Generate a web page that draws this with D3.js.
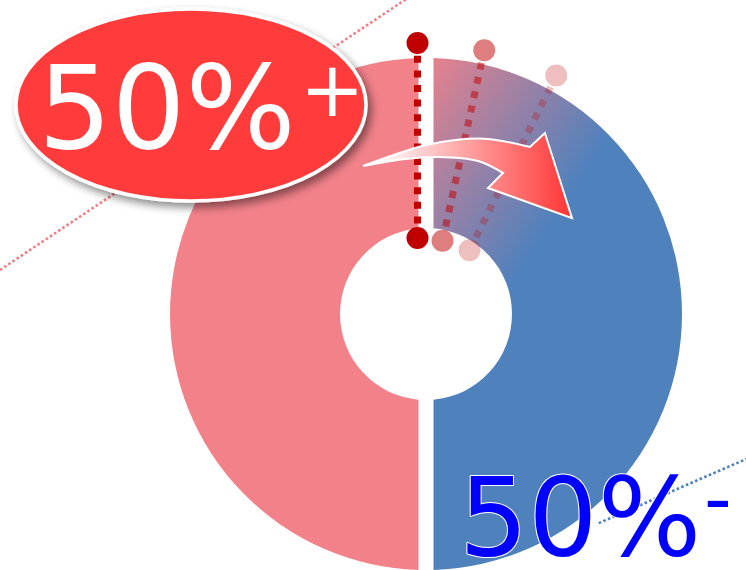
<!DOCTYPE html>
<html>
<head>
<meta charset="utf-8">
<script src="https://cdn.jsdelivr.net/npm/d3@7"></script>
<style>
  html, body { margin: 0; padding: 0; background: #fff; overflow: hidden; }
  svg { display: block; }
</style>
</head>
<body>
<script>
// Two halves of the ring, clockwise from the bottom
const shares = [50, 50];
const signs = ["+", "-"];
const sliceColors = ["#f2818a", "#4f81bd"];

// How far (degrees) the dividing line is turned, and how strongly each copy is drawn
const splitTurns = [0, 12.35, 26.4];
const splitOpacity = [1, 0.5, 0.25];

// Curved arrow outline, as [angle in degrees, radius] around the ring centre
const arrowUpper = [[-23.06, 160.8], [-1.4, 168], [9.5, 176.4], [19.5, 185.7], [31.9, 196.7]];
const arrowHead = [[33.3, 216.6], [56.7, 174.7], [26.2, 140.4]];
const arrowLower = [[28.6, 160.7], [18.8, 161.6], [4.4, 157.5], [-7.7, 156.4], [-23.06, 160.8]];

const W = 746, H = 570;
const cx = 426, cy = 314, rOuter = 256, rInner = 86, gap = 15;

const svg = d3.select("body").append("svg")
  .attr("width", W).attr("height", H)
  .attr("font-family", "'DejaVu Sans', Verdana, sans-serif");

const defs = svg.append("defs");

// shadow under the badge
const sh = defs.append("filter").attr("id", "badgeShadow")
  .attr("x", "-20%").attr("y", "-20%").attr("width", "140%").attr("height", "150%");
sh.append("feDropShadow").attr("dx", 4).attr("dy", 5).attr("stdDeviation", 4)
  .attr("flood-color", "#000").attr("flood-opacity", 0.45);

// pink-to-blue fade across the upper right quarter (ring-centred coordinates)
const fade = defs.append("linearGradient").attr("id", "blueFade")
  .attr("gradientUnits", "userSpaceOnUse")
  .attr("x1", -5).attr("y1", -rOuter - 8)
  .attr("x2", 165).attr("y2", -rOuter + 106);
fade.append("stop").attr("offset", 0).attr("stop-color", sliceColors[0]);
fade.append("stop").attr("offset", 1).attr("stop-color", sliceColors[1]);

// arrow: white tail to red head
const ag = defs.append("linearGradient").attr("id", "arrowFade")
  .attr("gradientUnits", "userSpaceOnUse")
  .attr("x1", cx - 50).attr("y1", 0).attr("x2", cx + 140).attr("y2", 0);
ag.append("stop").attr("offset", 0).attr("stop-color", "#ffffff");
ag.append("stop").attr("offset", 1).attr("stop-color", "#ff3b3b");

const toRad = d => d * Math.PI / 180;
const polar = (deg, r, ox = cx, oy = cy) => [ox + r * Math.sin(toRad(deg)), oy - r * Math.cos(toRad(deg))];

// dotted guide lines tangent to the ring
function tangent(deg, dist, s0, s1, color) {
  const [fx, fy] = polar(deg, dist);
  const tx = Math.cos(toRad(deg)), ty = Math.sin(toRad(deg));
  svg.append("line")
    .attr("x1", fx + s0 * tx).attr("y1", fy + s0 * ty)
    .attr("x2", fx + s1 * tx).attr("y2", fy + s1 * ty)
    .attr("stroke", color).attr("stroke-width", 2.6)
    .attr("stroke-dasharray", "2.6 2.4");
}
tangent(-33.7, 273, -400, 260, "#f47c84");
tangent(156.5, 260.7, -75, -260, "#4f81bd");

// ring
const pie = d3.pie().sort(null).startAngle(Math.PI).endAngle(3 * Math.PI);
const arc = d3.arc().innerRadius(rInner).outerRadius(rOuter)
  .padRadius(rOuter).padAngle(gap / rOuter);

svg.append("g").attr("transform", `translate(${cx},${cy})`)
  .selectAll("path").data(pie(shares)).join("path")
  .attr("d", arc)
  .attr("fill", (d, i) => i === 1 ? "url(#blueFade)" : sliceColors[i]);

// turned copies of the dividing line, pivoting below the centre
const pivot = [cx - 8.5, cy + 41];
const split = svg.append("g");
splitTurns.slice().reverse().forEach((t, k) => {
  const i = splitTurns.length - 1 - k;
  const a = polar(t, 117, pivot[0], pivot[1]);
  const b = polar(t, 312, pivot[0], pivot[1]);
  const g = split.append("g").attr("opacity", splitOpacity[i]);
  g.append("line")
    .attr("x1", a[0]).attr("y1", a[1]).attr("x2", b[0]).attr("y2", b[1])
    .attr("stroke", "#c00000").attr("stroke-width", 7)
    .attr("stroke-dasharray", "7 7.6");
  [a, b].forEach(p => g.append("circle").attr("cx", p[0]).attr("cy", p[1])
    .attr("r", 11).attr("fill", "#c00000"));
});

// curved arrow along the ring
const pts = list => list.map(([d, r]) => polar(d, r));
const smooth = d3.line().curve(d3.curveCatmullRom.alpha(0.5));
const upperD = smooth(pts(arrowUpper));
const headD = pts(arrowHead).map(p => `L${p[0]},${p[1]}`).join("");
const lowerD = smooth(pts(arrowLower)).replace(/^M/, "L");
svg.append("path")
  .attr("d", upperD + headD + lowerD + "Z")
  .attr("fill", "url(#arrowFade)")
  .attr("stroke", "#ffffff").attr("stroke-width", 2)
  .attr("stroke-linejoin", "miter");

// badge for the first half
const badge = svg.append("g");
badge.append("ellipse")
  .attr("cx", 191).attr("cy", 105).attr("rx", 175).attr("ry", 96)
  .attr("fill", "#ff3b3b").attr("stroke", "#ffffff").attr("stroke-width", 3.5)
  .attr("filter", "url(#badgeShadow)");
badge.append("text")
  .attr("x", 38).attr("y", 148)
  .attr("font-size", 116).attr("fill", "#ffffff")
  .text(`${shares[0]}%`);
badge.append("text")
  .attr("x", 300).attr("y", 116)
  .attr("font-size", 77).attr("fill", "#ffffff")
  .text(signs[0]);

// label for the second half
const lab = svg.append("g")
  .attr("fill", "#0000ff").attr("stroke", "#ffffff").attr("stroke-width", 2)
  .attr("paint-order", "stroke").attr("stroke-linejoin", "round");
lab.append("text")
  .attr("x", 459).attr("y", 555)
  .attr("font-size", 109)
  .text(`${shares[1]}%`);
lab.append("text")
  .attr("x", 704).attr("y", 525)
  .attr("font-size", 77)
  .text(signs[1]);
</script>
</body>
</html>
